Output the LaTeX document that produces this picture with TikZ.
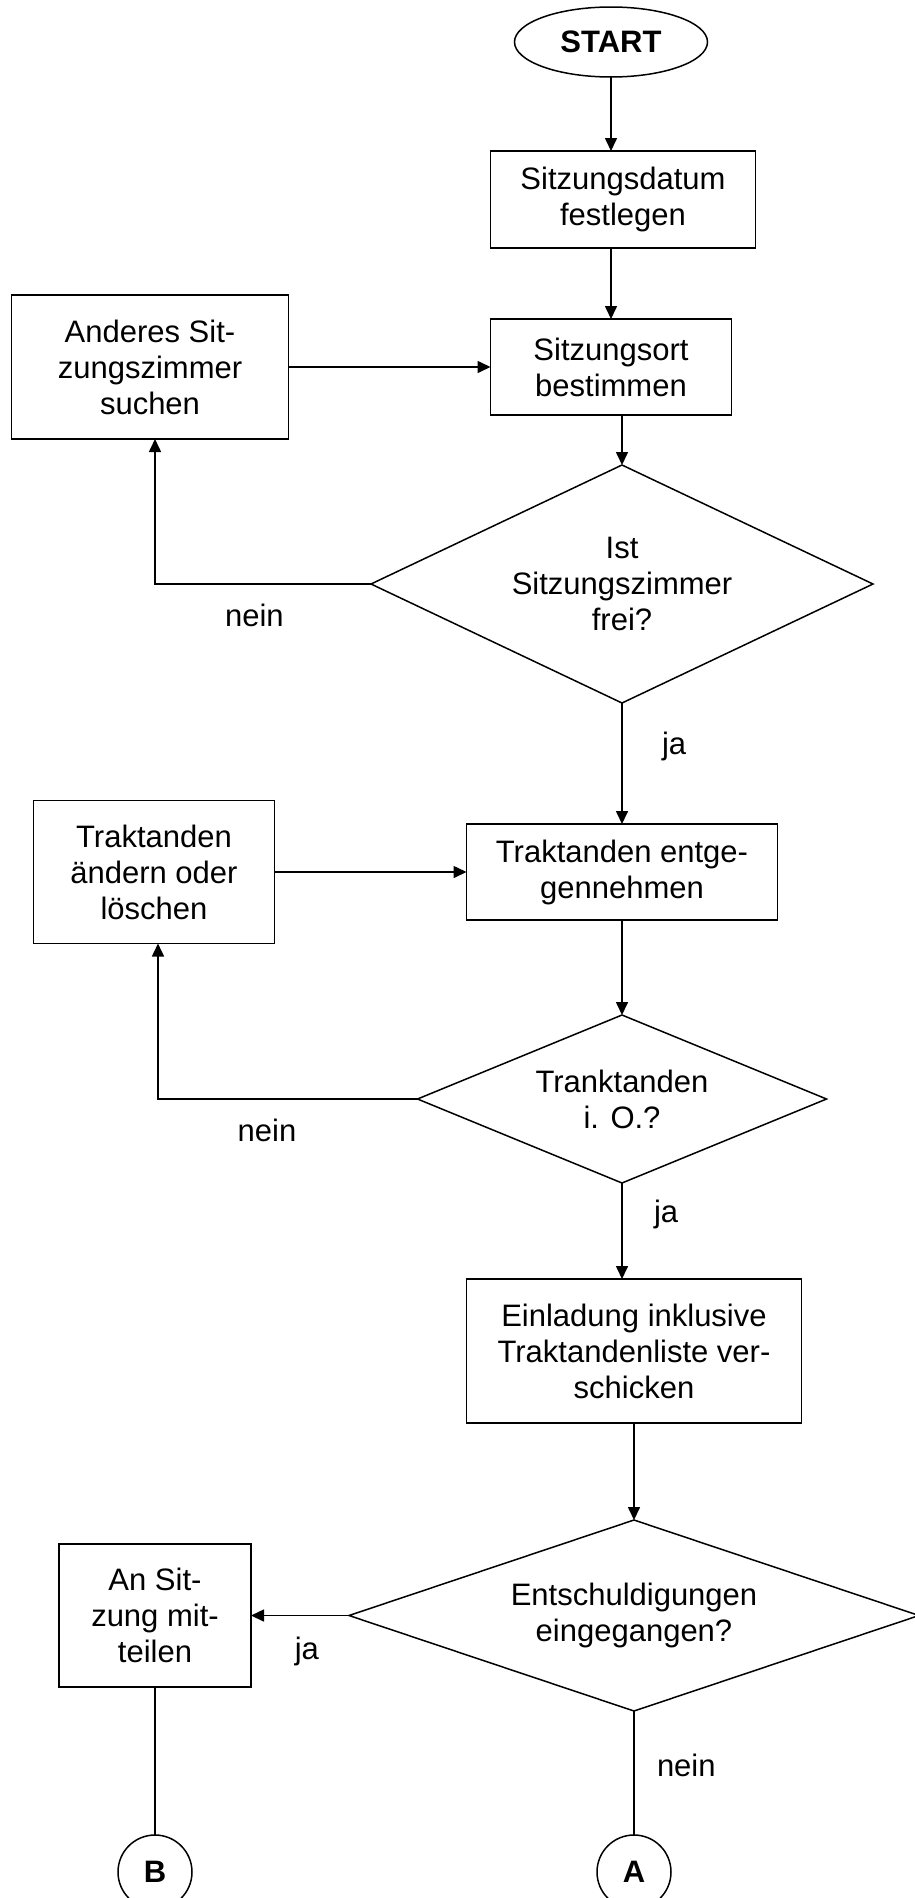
\documentclass[tikz,border=0pt]{standalone}
\usepackage{fontspec}
\setmainfont{Liberation Sans}
\usetikzlibrary{positioning,arrows.meta,shapes.geometric}

\begin{document}
\begin{tikzpicture}[
  x=1pt,y=-1pt,
  >={Triangle[length=13pt,width=12pt]},
  every node/.style={font=\fontsize{31}{36}\selectfont,outer sep=0pt},
  box/.style={draw,line width=1.8pt,align=center,inner sep=0pt},
  decision/.style={draw,diamond,line width=1.5pt,align=center,inner sep=0pt},
  term/.style={draw,ellipse,line width=1.5pt,inner sep=0pt,
               minimum width=193pt,minimum height=70pt,font=\fontsize{31}{36}\selectfont\bfseries},
  connector/.style={draw,circle,line width=1.5pt,inner sep=0pt,minimum size=74pt,
               font=\fontsize{31}{36}\selectfont\bfseries},
  flow/.style={line width=1.6pt},
  lbl/.style={inner sep=0pt}
]
\useasboundingbox (0,0) rectangle (915,1898);

\node[term] (start) at (611,42) {START};
\node[box,minimum width=265pt,minimum height=97pt,below=74pt of start,xshift=12pt] (date)
  {Sitzungsdatum\\festlegen};
\node[box,minimum width=241pt,minimum height=96pt,below=71pt of date,xshift=-12pt] (place)
  {Sitzungsort\\bestimmen};
\node[box,minimum width=277pt,minimum height=144pt,left=202pt of place] (altroom)
  {Anderes Sit-\\zungszimmer\\suchen};
\node[decision,aspect=2.1,minimum width=502pt,minimum height=238pt,below=50pt of place,xshift=11pt] (roomfree)
  {Ist\\Sitzungszimmer\\frei?};
\node[box,minimum width=311pt,minimum height=96pt,below=121pt of roomfree] (agenda)
  {Traktanden entge-\\gennehmen};
\node[box,minimum width=241pt,minimum height=143pt,left=192pt of agenda] (editagenda)
  {Traktanden\\ändern oder\\löschen};
\node[decision,aspect=2.43,minimum width=409pt,minimum height=168pt,below=95pt of agenda] (agendaok)
  {Tranktanden\\i. O.?};
\node[box,minimum width=335pt,minimum height=144pt,below=96pt of agendaok,xshift=12pt] (invite)
  {Einladung inklusive\\Traktandenliste ver-\\schicken};
\node[decision,aspect=2.98,minimum width=570pt,minimum height=191pt,below=97pt of invite] (excuses)
  {Entschuldigungen\\eingegangen?};
\node[box,minimum width=192pt,minimum height=143pt,left=98pt of excuses] (notify)
  {An Sit-\\zung mit-\\teilen};
\node[connector,below=124pt of excuses] (conA) {A};
\node[connector,below=148pt of notify] (conB) {B};

% main column
\draw[flow,->] (start) -- (start |- date.north);
\draw[flow,->] (date.south -| place) -- (place.north);
\draw[flow,->] (place.south -| roomfree) -- (roomfree.north);
\draw[flow,->] (roomfree.south) -- node[lbl,pos=0.36,right=40pt] {ja} (agenda.north);
\draw[flow,->] (agenda.south) -- (agendaok.north);
\draw[flow,->] (agendaok.south) -- node[lbl,pos=0.33,right=32pt] {ja} (agendaok.south |- invite.north);
\draw[flow,->] (invite.south) -- (excuses.north);
\draw[flow] (excuses.south) -- node[lbl,pos=0.44,right=23pt] {nein} (conA.north);

% loops back
\draw[flow,->] (altroom.east) -- (place.west);
\draw[flow,->] (roomfree.west) -| node[lbl,pos=0.27,below=20pt] {nein} ([xshift=5pt]altroom.south);
\draw[flow,->] (editagenda.east) -- (agenda.west);
\draw[flow,->] (agendaok.west) -| node[lbl,pos=0.29,below=20pt] {nein} ([xshift=4pt]editagenda.south);
\draw[flow,->] (excuses.west) -- node[lbl,pos=0.43,below=22pt] {ja} (notify.east);
\draw[flow] (notify.south) -- (conB.north);
\end{tikzpicture}
\end{document}
